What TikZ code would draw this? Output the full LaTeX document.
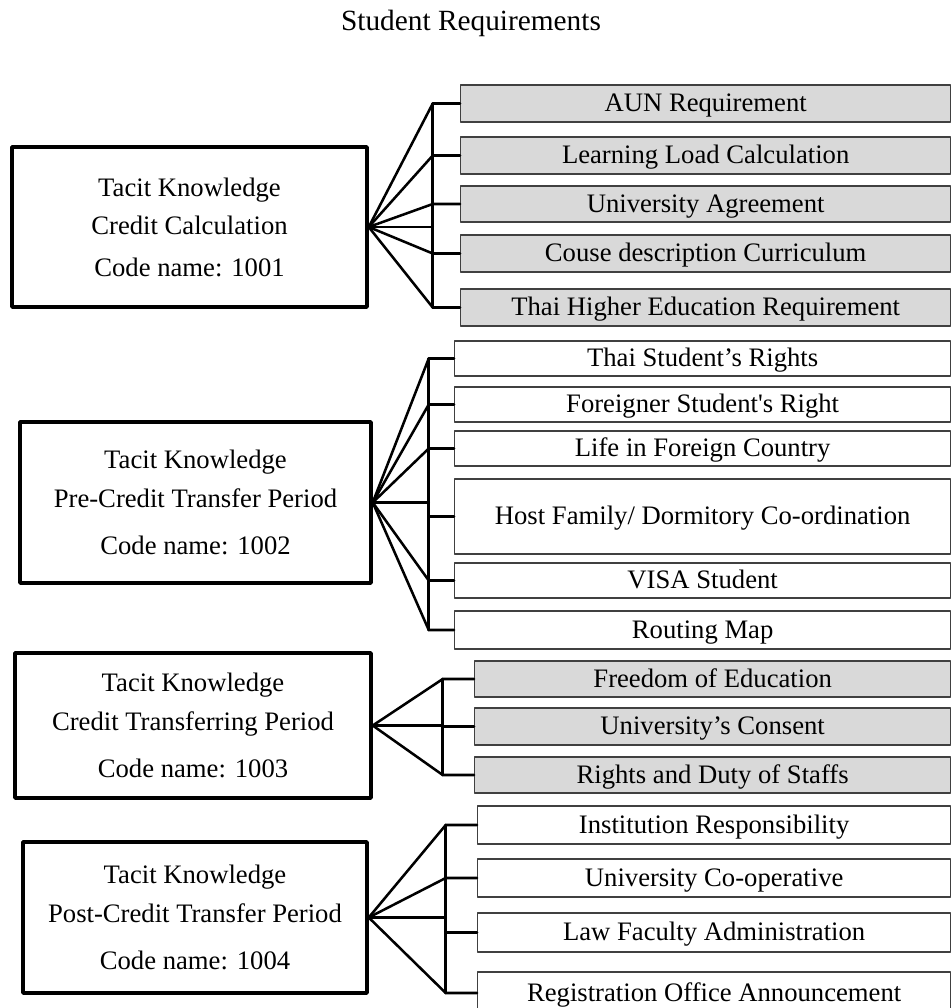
\documentclass[tikz,border=0pt]{standalone}
\usepackage{fontspec}
\setmainfont{Liberation Serif}

\begin{document}
\begin{tikzpicture}[x=0.75pt,y=-0.75pt,line join=round,line cap=round,
  kbox/.style={draw,line width=2.6pt,align=center,inner sep=0pt,font=\fontsize{20}{29}\selectfont},
  rbox/.style={draw=black!75,line width=1pt,anchor=west,inner sep=0pt,
    text height=14pt,text depth=2pt,font=\fontsize{20}{24}\selectfont},
  shade/.style={fill=gray!30},
  link/.style={line width=1.9pt}]
\useasboundingbox (0,0) rectangle (951,1008);
\node[anchor=base,font=\fontsize{22}{26}\selectfont] (title) at (471,30) {Student Requirements};

% group 1
\node[kbox,minimum width=266.25pt,minimum height=120pt] (k1) at (189.5,227)
  {Tacit Knowledge\\Credit Calculation\\[2pt]Code name: 1001};
\foreach \n/\yc/\h/\txt in {a/103.5/37/AUN Requirement, b/155.5/37/Learning Load Calculation,
  c/204/36/University Agreement, d/253.5/37/Couse description Curriculum,
  e/307.5/37/Thai Higher Education Requirement}
  \node[rbox,shade,minimum width=367.5pt,minimum height=\h*0.75pt] (r1\n) at (460,\yc) {\txt};
\path (k1.east) ++(64,0) coordinate (j1);
\draw[link] (k1.east) -- (j1);
\foreach \n in {a,...,e}
  \draw[link] (k1.east) -- (r1\n.west -| j1) -- (r1\n.west);
\draw[link] (r1a.west -| j1) -- (r1e.west -| j1);

% group 2
\node[kbox,minimum width=263.25pt,minimum height=120.75pt] (k2) at (195.5,502.5)
  {Tacit Knowledge\\Pre-Credit Transfer Period\\[6pt]Code name: 1002};
\foreach \n/\yc/\h/\txt in {a/358.5/35/Thai Student’s Rights, b/404.5/35/Foreigner Student\textquotesingle s Right,
  c/448.5/35/Life in Foreign Country, d/516.5/75/{Host Family/ Dormitory Co-ordination},
  e/580.5/35/VISA Student, f/630/38/Routing Map}
  \node[rbox,minimum width=372pt,minimum height=\h*0.75pt] (r2\n) at (454,\yc) {\txt};
\path (k2.east) ++(56,0) coordinate (j2);
\draw[link] (k2.east) -- (j2);
\foreach \n in {a,b,c,e,f}
  \draw[link] (k2.east) -- (r2\n.west -| j2) -- (r2\n.west);
\draw[link] (r2d.west -| j2) -- (r2d.west);
\draw[link] (r2a.west -| j2) -- (r2f.west -| j2);

% group 3
\node[kbox,minimum width=267pt,minimum height=108.75pt] (k3) at (193,725.5)
  {Tacit Knowledge\\Credit Transferring Period\\[6pt]Code name: 1003};
\foreach \n/\yc/\h/\txt in {a/679/36/Freedom of Education, b/726.5/37/University’s Consent,
  c/775/36/Rights and Duty of Staffs}
  \node[rbox,shade,minimum width=357pt,minimum height=\h*0.75pt] (r3\n) at (474,\yc) {\txt};
\path (k3.east) ++(70,0) coordinate (j3);
\draw[link] (k3.east) -- (j3);
\foreach \n in {a,c}
  \draw[link] (k3.east) -- (r3\n.west -| j3) -- (r3\n.west);
\draw[link] (r3b.west -| j3) -- (r3b.west);
\draw[link] (r3a.west -| j3) -- (r3c.west -| j3);

% group 4
\node[kbox,minimum width=258pt,minimum height=113.25pt] (k4) at (195,917.5)
  {Tacit Knowledge\\Post-Credit Transfer Period\\[6pt]Code name: 1004};
\foreach \n/\yc/\h/\txt in {a/825/38/Institution Responsibility, b/878/38/University Co-operative,
  c/932.5/39/Law Faculty Administration, d/993/42/Registration Office Announcement}
  \node[rbox,minimum width=354.75pt,minimum height=\h*0.75pt] (r4\n) at (477,\yc) {\txt};
\path (k4.east) ++(77,0) coordinate (j4);
\draw[link] (k4.east) -- (j4);
\foreach \n in {a,b,d}
  \draw[link] (k4.east) -- (r4\n.west -| j4) -- (r4\n.west);
\draw[link] (r4c.west -| j4) -- (r4c.west);
\draw[link] (r4a.west -| j4) -- (r4d.west -| j4);
\end{tikzpicture}
\end{document}
